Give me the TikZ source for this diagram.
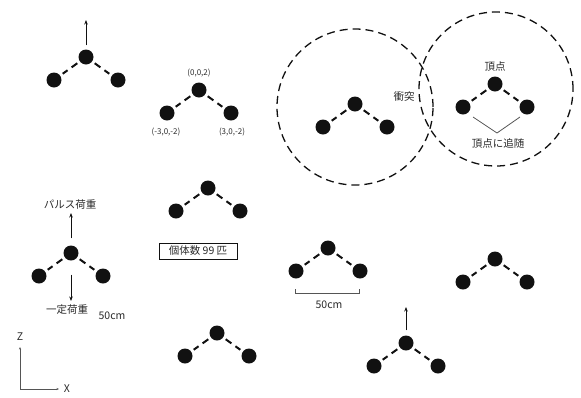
\documentclass[tikz,border=0pt]{standalone}
\usepackage{fontspec}
\setmainfont{Noto Sans CJK JP}
\usepackage{xcolor}
\usepackage{tikz}
\usetikzlibrary{arrows.meta}
\definecolor{MolInk}{HTML}{111111}
\definecolor{MolText}{HTML}{2A2A2A}
\definecolor{MolLine}{HTML}{555555}

% one bead-spring trimer: top bead, two lower beads, dashed links
\newcommand{\trimer}[3]{%
  \node[bead] (#1t) at (#2,#3) {};
  \node[bead] (#1l) at ({#2-32},{#3+23}) {};
  \node[bead] (#1r) at ({#2+32},{#3+23}) {};
  \draw[link] (#1t) -- (#1l);
  \draw[link] (#1t) -- (#1r);
}

\begin{document}
\begin{tikzpicture}[x=1pt,y=-1pt,
  bead/.style={circle,fill=MolInk,inner sep=0pt,minimum size=15pt},
  link/.style={MolInk,line width=2pt,dash pattern=on 7pt off 5pt,shorten <=3pt,shorten >=3pt},
  zone/.style={MolInk,line width=1.3pt,dash pattern=on 8pt off 5pt},
  load/.style={MolInk,line width=1pt,-{Stealth[length=4.5pt,width=3.5pt]}},
  thin/.style={MolLine,line width=.8pt},
  lbl/.style={text=MolText,font=\fontsize{10.5}{12}\selectfont,inner sep=1pt},
  coord/.style={text=MolText,font=\fontsize{8}{10}\selectfont,inner sep=1pt}]
\path[use as bounding box] (0,0) rectangle (581,397);

% interaction zones
\draw[zone] (355,107) circle (78pt);
\draw[zone] (496,89) circle (77pt);

% molecules
\trimer{m1}{86}{57}
\trimer{m2}{199}{90}
\trimer{m3}{355}{104}
\trimer{m4}{495}{84}
\trimer{m5}{71}{253}
\trimer{m6}{208}{188}
\trimer{m7}{328}{248}
\trimer{m8}{495}{259}
\trimer{m9}{406}{343}
\trimer{m10}{217}{333}

% loads
\coordinate (m1up) at (86,20);
\draw[load,shorten <=4pt] (m1t.north) -- (m1up);
\coordinate (m9up) at (406,307);
\draw[load,shorten <=5pt] (m9t.north) -- (m9up);
\node[lbl] (pulse) at (70,204) {パルス荷重};
\node[lbl] (steady) at (67,310) {一定荷重};
\draw[load,shorten <=7pt,shorten >=3pt] (m5t.north) -- (m5t.north |- pulse.south);
\draw[load,shorten <=14pt,shorten >=3pt] (m5t.south) -- (m5t.south |- steady.north);
\node[lbl] (len1) at (112,316) {50cm};

% bead coordinates
\node[coord] (c0) at (199,73) {(0,0,2)};
\node[coord] (c1) at (166,132) {(-3,0,-2)};
\node[coord] (c2) at (232,132) {(3,0,-2)};

% collision and vertex following
\node[lbl] (hit) at (404,97) {衝突};
\node[lbl] (apex) at (495,67) {頂点};
\node[lbl] (follow) at (498,143) {頂点に追随};
\coordinate (vl) at (473,117);
\coordinate (vb) at (497,133);
\coordinate (vr) at (520,117);
\draw[thin] (vl) -- (vb) -- (vr);

% population
\node[draw=MolInk,line width=.8pt,lbl,minimum width=78pt,minimum height=16pt] (pop) at (198,251) {個体数 99 匹};

% scale bar
\coordinate (sbl) at (295,289);
\coordinate (sbr) at (359,289);
\draw[thin] (sbl) -- ++(0,4) -| (sbr);
\node[lbl] (len2) at (329,305) {50cm};

% axes
\coordinate (zend) at (20,347);
\coordinate (xend) at (59,389);
\draw[thin,{Stealth[length=2.5pt,width=2pt]}-{Stealth[length=2.5pt,width=2pt]}] (zend) |- (xend);
\node[lbl] (zlab) at (20,337) {Z};
\node[lbl] (xlab) at (67,389) {X};
\end{tikzpicture}
\end{document}
